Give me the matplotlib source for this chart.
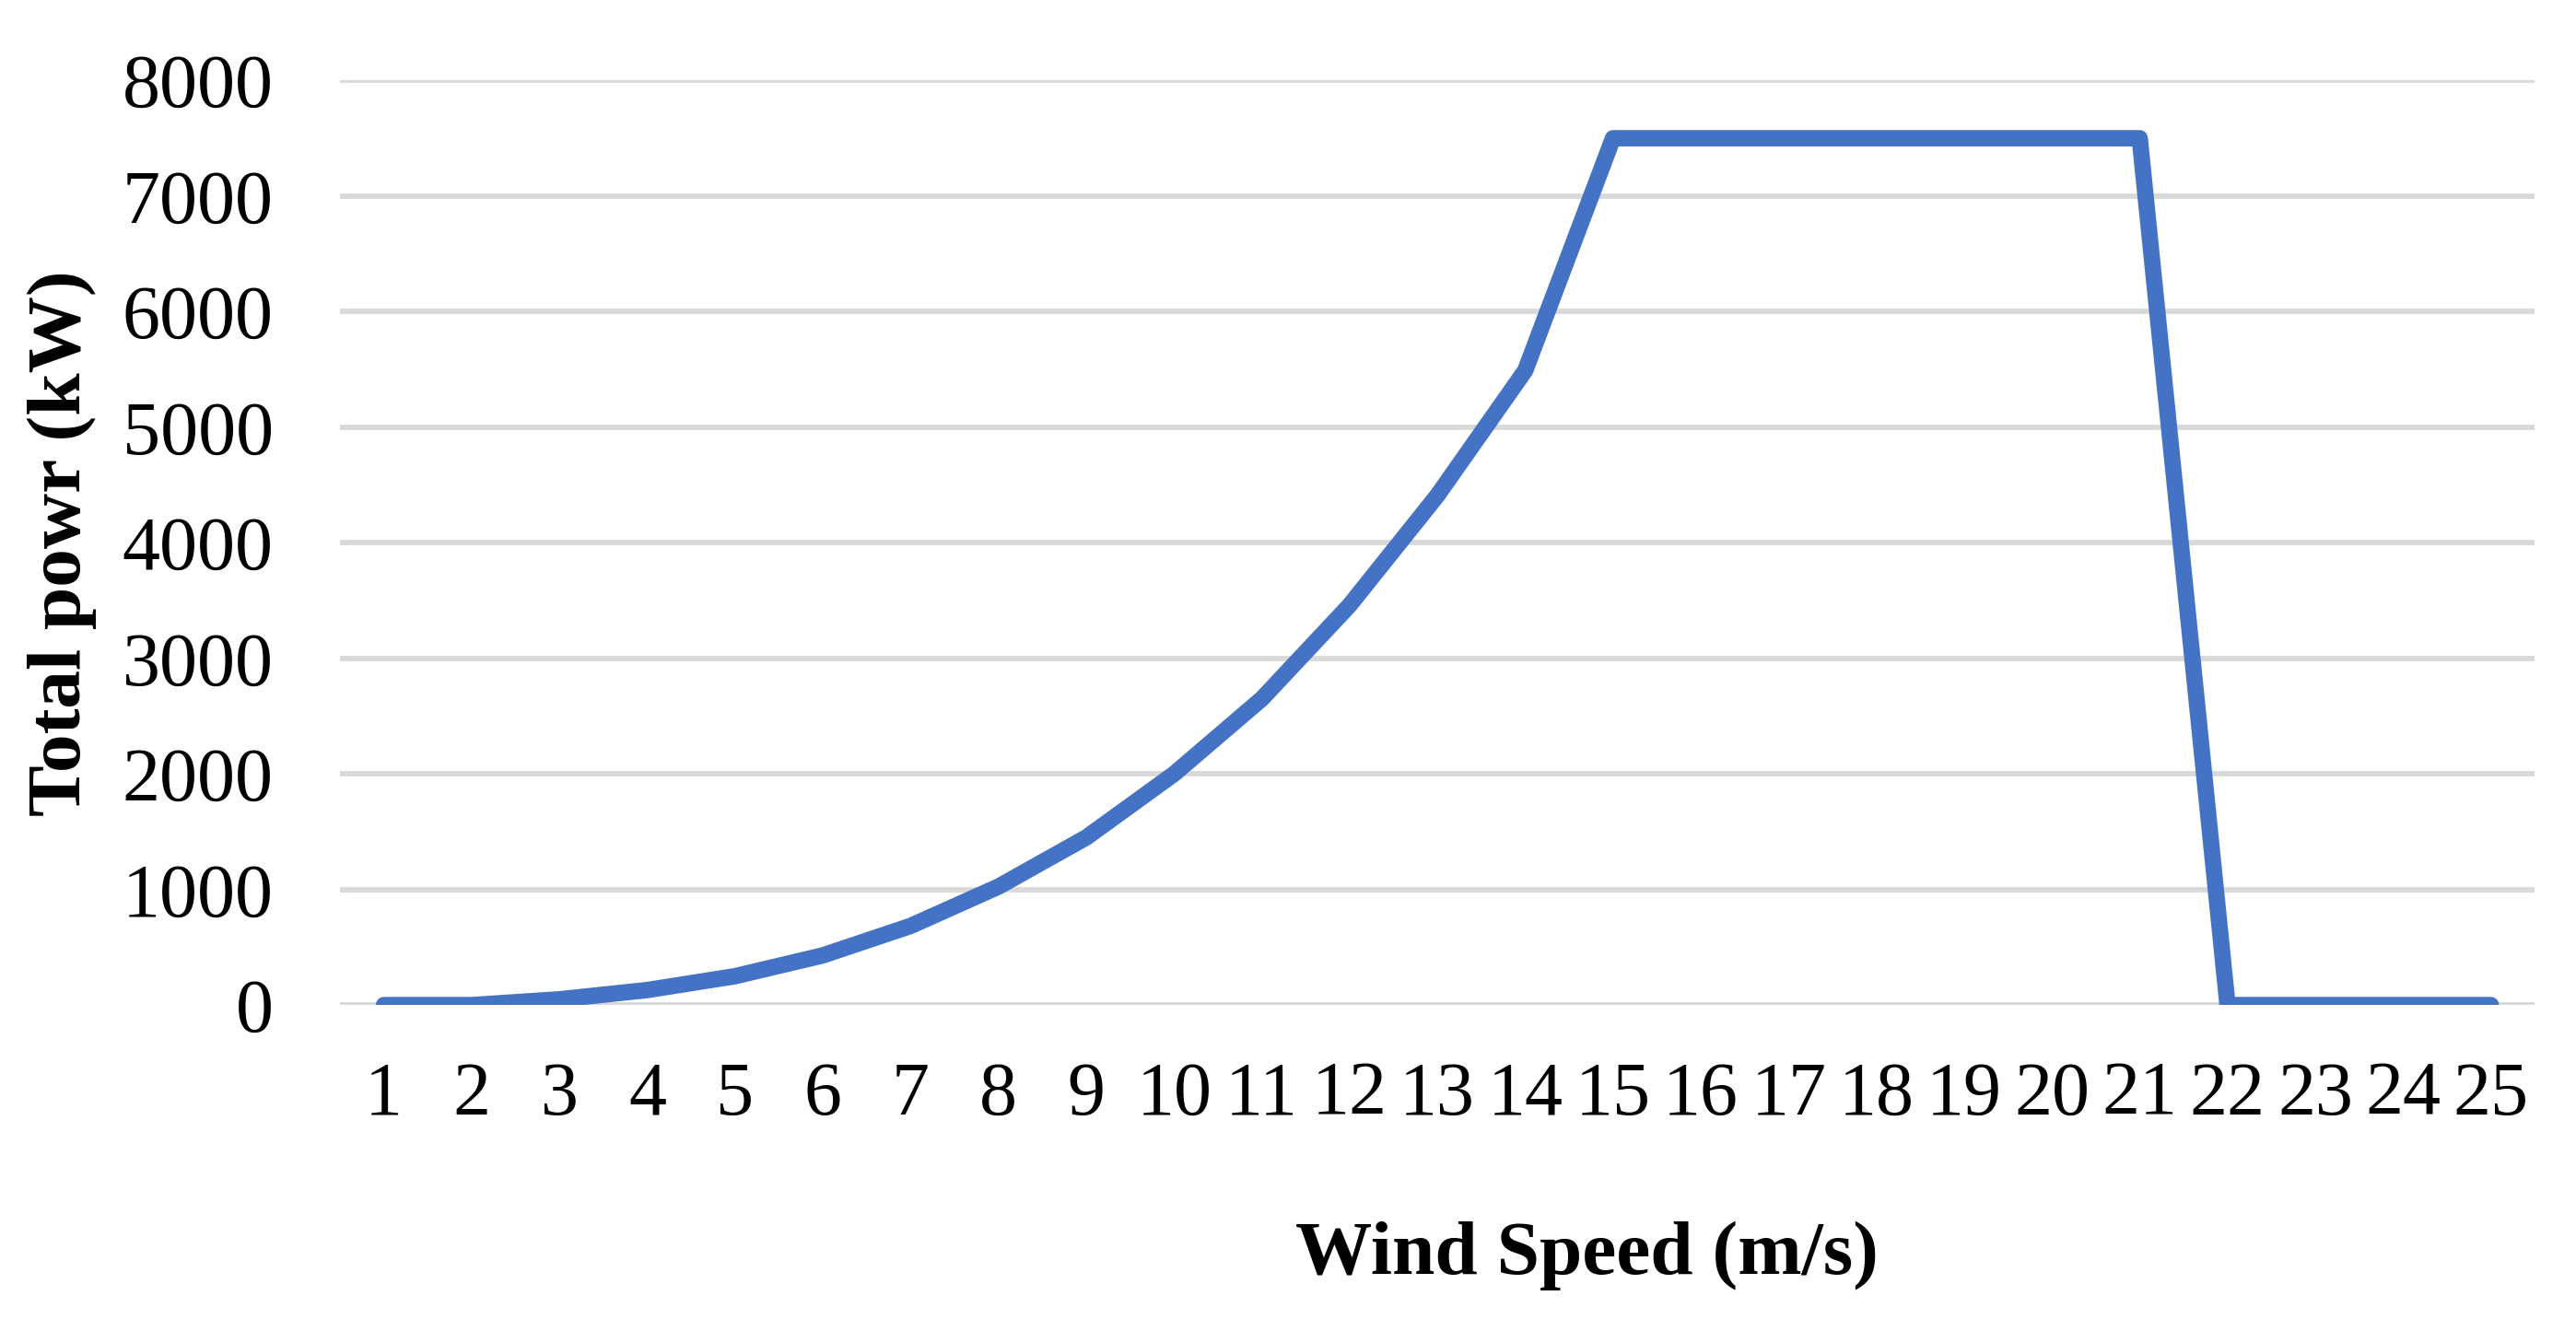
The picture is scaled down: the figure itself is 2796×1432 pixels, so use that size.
import matplotlib.pyplot as plt

# wind speed categories and total power
wind_speed = [str(v) for v in range(1, 26)]
total_power = [0, 0, 50, 130, 250, 430, 685, 1025, 1450, 2000, 2650, 3460,
               4410, 5490, 7500, 7500, 7500, 7500, 7500, 7500, 7500, 0, 0, 0, 0]
y_ticks = [0, 1000, 2000, 3000, 4000, 5000, 6000, 7000, 8000]

plt.rcParams["font.family"] = ["Liberation Serif", "DejaVu Serif"]

fig = plt.figure(figsize=(13.98, 7.16), dpi=200, facecolor="white")
ax = fig.add_axes([0.132, 0.238, 0.852, 0.701])

x_pos = list(range(len(wind_speed)))
ax.plot(x_pos, total_power, color="#4472C4", linewidth=6.4,
        solid_capstyle="round", solid_joinstyle="round", zorder=3)

ax.set_xlim(-0.5, len(wind_speed) - 0.5)
ax.set_ylim(0, 8000)
ax.set_xticks(x_pos)
ax.set_xticklabels(wind_speed)
ax.set_yticks(y_ticks)
ax.tick_params(axis="x", length=0, pad=22, labelsize=29.5)
ax.tick_params(axis="y", length=0, pad=26, labelsize=29.5)

ax.grid(axis="y", color="#D9D9D9", linewidth=2.1, zorder=0)
ax.set_axisbelow(True)
for s in ax.spines.values():
    s.set_visible(False)

fig.text(0.616, 0.048, "Wind Speed (m/s)", ha="center", va="center",
         fontsize=30, fontweight="bold")
fig.text(0.024, 0.588, "Total powr (kW)", ha="center", va="center",
         rotation=90, fontsize=30, fontweight="bold")

fig.savefig("out.png", dpi=200, facecolor="white")
